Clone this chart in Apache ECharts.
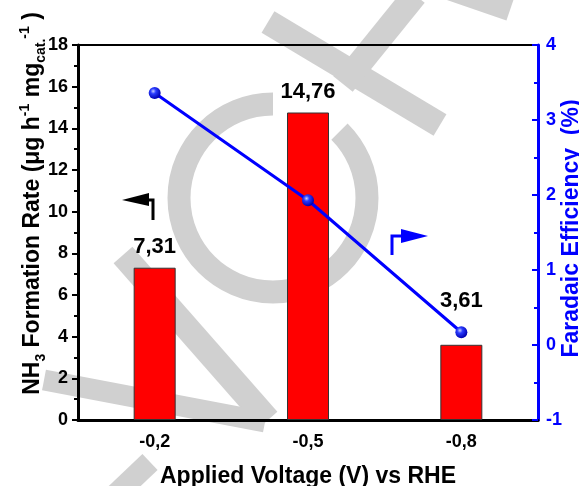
<!DOCTYPE html>
<html>
<head>
<meta charset="utf-8">
<script src="https://cdn.jsdelivr.net/npm/echarts@6/dist/echarts.min.js"></script>
<style>
  html, body { margin: 0; padding: 0; background: #fff; }
  #chart { width: 579px; height: 486px; }
</style>
</head>
<body>
<div id="chart"></div>
<script>
// data
const voltages = ["-0,2", "-0,5", "-0,8"];
const formationRate = [7.31, 14.76, 3.61];
const faradaicEff = [3.36, 1.93, 0.17];
// the last value label sits higher so it clears the FE point
const labelDistance = [10, 10, 33];

const FONT = "'Liberation Sans', Arial, sans-serif";
const BLUE = "#0000ff";
const WM = "#d0d0d0";

const chart = echarts.init(document.getElementById("chart"));

// grey watermark strokes behind the plot
const wmLine = (x1, y1, x2, y2, w) => ({
  type: "line",
  z: -10,
  silent: true,
  shape: { x1, y1, x2, y2 },
  style: { stroke: WM, lineWidth: w, lineCap: "butt" },
});

const option = {
  backgroundColor: "#fff",
  animation: false,
  textStyle: { fontFamily: FONT },
  grid: {
    left: 78,
    right: 41,
    top: 45,
    bottom: 66,
    outerBoundsMode: "none",
    show: true,
    borderColor: "#000",
    borderWidth: 2,
    backgroundColor: "transparent",
  },
  xAxis: [
    {
      type: "category",
      data: voltages,
      axisLine: { lineStyle: { color: "#000", width: 3 } },
      axisTick: { alignWithLabel: true, length: 6, lineStyle: { color: "#000", width: 3 } },
      axisLabel: { color: "#000", fontSize: 18, fontWeight: "bold", margin: 13 },
      name: "Applied Voltage (V) vs RHE",
      nameLocation: "middle",
      nameGap: 45,
      nameMoveOverlap: false,
      nameTextStyle: { color: "#000", fontSize: 23, fontWeight: "bold" },
    },
    {
      // small ticks between the categories
      type: "category",
      data: voltages,
      position: "bottom",
      axisLine: { show: false },
      axisTick: { length: 3, lineStyle: { color: "#000", width: 3 } },
      axisLabel: { show: false },
    },
  ],
  yAxis: [
    {
      type: "value",
      min: 0,
      max: 18,
      interval: 2,
      splitLine: { show: false },
      axisLine: { show: true, lineStyle: { color: "#000", width: 3 } },
      axisTick: { show: true, length: 6, lineStyle: { color: "#000", width: 2 } },
      minorTick: { show: true, splitNumber: 2, length: 4, lineStyle: { color: "#000", width: 2 } },
      axisLabel: { color: "#000", fontSize: 18, fontWeight: "bold", margin: 10 },
      name: "NH{sub|3} Formation Rate (μg h{sup|-1} mg{sub|cat.}{sup|-1} )",
      nameLocation: "middle",
      nameRotate: 90,
      nameGap: 30,
      nameMoveOverlap: false,
      nameTextStyle: {
        color: "#000",
        fontSize: 23,
        fontWeight: "bold",
        lineHeight: 30,
        padding: [0, 0, 0, 58],
        rich: {
          sub: { fontSize: 14, fontWeight: "bold", color: "#000", verticalAlign: "bottom", lineHeight: 14 },
          sup: { fontSize: 14, fontWeight: "bold", color: "#000", verticalAlign: "top", lineHeight: 14 },
        },
      },
    },
    {
      type: "value",
      min: -1,
      max: 4,
      interval: 1,
      position: "right",
      splitLine: { show: false },
      axisLine: { show: true, lineStyle: { color: BLUE, width: 3 } },
      axisTick: { show: true, inside: true, length: 6, lineStyle: { color: BLUE, width: 2 } },
      minorTick: { show: true, splitNumber: 2, length: 4, lineStyle: { color: BLUE, width: 2 } },
      axisLabel: { color: BLUE, fontSize: 18, fontWeight: "bold", margin: 8 },
      name: "Faradaic Efficiency  (%)",
      nameLocation: "middle",
      nameRotate: 90,
      nameGap: 22,
      nameMoveOverlap: false,
      nameTextStyle: { color: BLUE, fontSize: 23, fontWeight: "bold", padding: [0, 0, 0, 8] },
    },
  ],
  series: [
    {
      type: "bar",
      data: formationRate.map((v, i) => ({ value: v, label: { distance: labelDistance[i] } })),
      xAxisIndex: 0,
      yAxisIndex: 0,
      barWidth: 42,
      itemStyle: { color: "#ff0000", borderColor: "#333", borderWidth: 1 },
      label: {
        show: true,
        position: "top",
        color: "#000",
        fontSize: 22,
        fontWeight: "bold",
        formatter: (p) => p.value.toFixed(2).replace(".", ","),
      },
      z: 2,
    },
    {
      type: "line",
      data: faradaicEff,
      xAxisIndex: 0,
      yAxisIndex: 1,
      symbol: "circle",
      symbolSize: 12,
      lineStyle: { color: BLUE, width: 3 },
      itemStyle: {
        color: new echarts.graphic.RadialGradient(0.38, 0.35, 0.65, [
          { offset: 0, color: "#c8ccff" },
          { offset: 0.35, color: "#2a3cff" },
          { offset: 1, color: "#0000b0" },
        ]),
      },
      z: 5,
    },
  ],
  graphic: [
    // watermark
    {
      type: "arc",
      z: -10,
      silent: true,
      shape: { cx: 273, cy: 198, r: 94, startAngle: -Math.PI / 4, endAngle: 1.5 * Math.PI, clockwise: true },
      style: { stroke: WM, lineWidth: 23, fill: null },
    },
    wmLine(123, 255, 268, 420, 25),
    wmLine(44, 380, 265, 422, 21),
    wmLine(150, 462, 110, 500, 22),
    wmLine(268, 22, 440, 125, 25),
    wmLine(343, 84, 415, -5, 25),
    wmLine(440, -14, 510, 10, 22),
    // left-pointing arrow (bars -> left axis)
    {
      type: "polyline",
      z: 20,
      shape: { points: [[146, 200], [153, 200], [153, 220]] },
      style: { stroke: "#000", lineWidth: 3, fill: null },
    },
    {
      type: "polygon",
      z: 20,
      shape: { points: [[122, 200], [149, 193], [149, 206]] },
      style: { fill: "#000" },
    },
    // right-pointing arrow (line -> right axis)
    {
      type: "polyline",
      z: 20,
      shape: { points: [[392, 255], [392, 236], [403, 236]] },
      style: { stroke: BLUE, lineWidth: 3, fill: null },
    },
    {
      type: "polygon",
      z: 20,
      shape: { points: [[401, 229], [401, 243], [428, 236]] },
      style: { fill: BLUE },
    },
  ],
};

chart.setOption(option);
</script>
</body>
</html>
